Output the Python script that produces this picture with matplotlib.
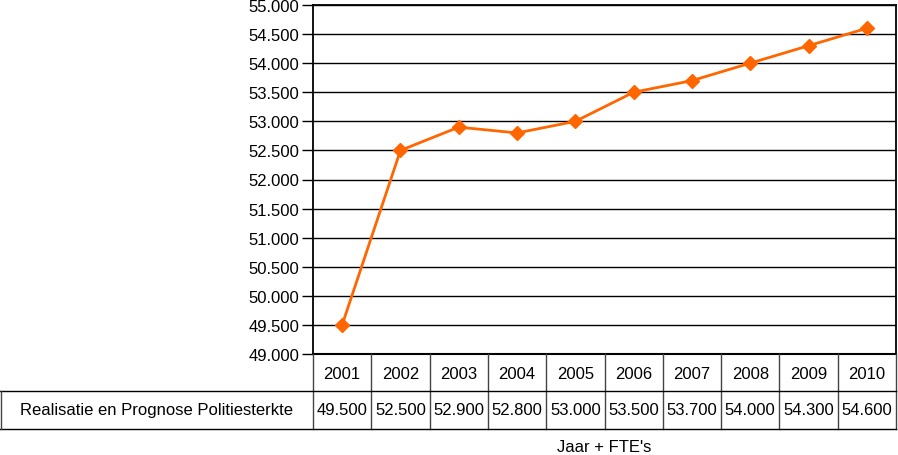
import numpy as np
import matplotlib.pyplot as plt

years = [2001, 2002, 2003, 2004, 2005, 2006, 2007, 2008, 2009, 2010]
sterkte = [49500, 52500, 52900, 52800, 53000, 53500, 53700, 54000, 54300, 54600]
reeks = "Realisatie en Prognose Politiesterkte"
yticks = np.arange(49000, 55001, 500)

W, H = 898, 456
plt.rcParams['font.family'] = ['Liberation Sans', 'DejaVu Sans']
fs = 12

def fmt(v):
    return "{:,}".format(v).replace(",", ".")

fig = plt.figure(figsize=(W / 100, H / 100), dpi=100)
L, R, T, B = 313, 896, 6, 355
ax = fig.add_axes([L / W, 1 - B / H, (R - L) / W, (B - T) / H])
x = np.arange(len(years))
ax.plot(x, sterkte, color='#ff6600', lw=2, marker='D', ms=7, zorder=3)
ax.set_xlim(-0.5, len(years) - 0.5)
ax.set_ylim(49000, 55000)
ax.set_yticks(yticks)
ax.set_yticklabels([fmt(v) for v in yticks], fontsize=fs)
ax.set_xticks([])
ax.grid(axis='y', color='black', lw=1)
ax.tick_params(axis='y', length=8, width=1, pad=2)
for s in ax.spines.values():
    s.set_linewidth(1.3)
ax.spines['bottom'].set_linewidth(1.5)
ax.set_axisbelow(True)

# table below the chart, in pixel coordinates
tb = fig.add_axes([0, 0, 1, 1])
tb.set_xlim(0, W)
tb.set_ylim(H, 0)
tb.axis('off')
cw = (R - L) / len(years)
r1, r2, r3 = B, 392, 430
lc = '#444444'
for i, (yr, v) in enumerate(zip(years, sterkte)):
    cx = L + (i + 0.5) * cw
    tb.text(cx, (r1 + r2) / 2 + 1, str(yr), ha='center', va='center', fontsize=fs)
    tb.text(cx, (r2 + r3) / 2, fmt(v), ha='center', va='center', fontsize=fs)
for i in range(len(years) + 1):
    xx = L + i * cw
    tb.plot([xx, xx], [r1, r3], color=lc, lw=1)
tb.plot([0, R], [r2, r2], color='black', lw=1)
tb.plot([0, R], [r3, r3], color='black', lw=1)
tb.plot([0.5, 0.5], [r2, r3], color=lc, lw=1)
tb.text(L / 2, (r2 + r3) / 2, reeks, ha='center', va='center', fontsize=fs)
tb.text((L + R) / 2, 448, "Jaar + FTE's", ha='center', va='center', fontsize=fs)

fig.savefig('out.png', dpi=100)
